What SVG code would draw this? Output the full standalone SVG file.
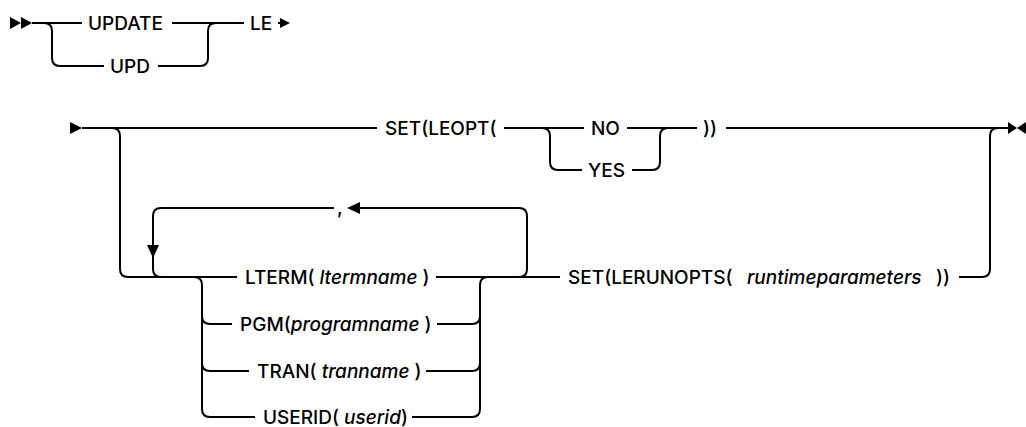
<svg xmlns="http://www.w3.org/2000/svg" width="1026" height="427" viewBox="0 0 1026 427">
<style>
.l{fill:none;stroke:#000;stroke-width:2}
.h{fill:#000;stroke:none}
text{font-family:Inter,"Liberation Sans",Arial,sans-serif;font-size:19px;font-weight:500;fill:#000}
.i{font-style:italic}
</style>
<rect width="1026" height="427" fill="#fff"/>
<g id="connectors">
<path class="l" d="M32,23 L82,23 M44,23 Q52,23 52,31 L52,58 Q52,66 60,66 L104,66"/>
<path class="l" d="M172,23 L244,23 M158,66 L200,66 Q208,66 208,58 L208,31 Q208,23 216,23"/>
<path class="l" d="M278,23 L282,23"/>
<path class="l" d="M82,128 L377,128 M504,128 L584,128 M627,128 L697,128 M726,128 L1010,128"/>
<path class="l" d="M542,128 Q550,128 550,136 L550,162 Q550,170 558,170 L582,170 M632,170 L652,170 Q660,170 660,162 L660,136 Q660,128 668,128"/>
<path class="l" d="M112,128 Q120,128 120,136 L120,269 Q120,277 128,277 L237,277"/>
<path class="l" d="M161,277 Q153,277 153,269 L153,216 Q153,208 161,208 L334,208"/>
<path class="l" d="M360,208 L519,208 Q527,208 527,216 L527,269 Q527,277 519,277"/>
<path class="l" d="M436,277 L560,277 M959,277 L982,277 Q990,277 990,269 L990,136 Q990,128 998,128"/>
<path class="l" d="M194,277 Q202,277 202,285 L202,409 Q202,417 210,417 L255,417 M202,316 Q202,324 210,324 L232,324 M202,363 Q202,371 210,371 L249,371"/>
<path class="l" d="M472,417 Q480,417 480,409 L480,285 Q480,277 488,277 M472,324 Q480,324 480,316 M472,371 Q480,371 480,363 M437,324 L472,324 M426,371 L472,371 M412,417 L472,417"/>
<polygon class="h" points="10,17 21,23 10,29"/>
<polygon class="h" points="21,17 32,23 21,29"/>
<polygon class="h" points="280,18 290,23 280,28"/>
<polygon class="h" points="70,122 82,128 70,134"/>
<polygon class="h" points="1008,122 1017,128 1008,134"/>
<polygon class="h" points="1026,122 1017,128 1026,134"/>
<polygon class="h" points="147,245 159,245 153,258"/>
<polygon class="h" points="360,202 360,214 347,208"/>
</g>
<g id="n-update"><text x="88" y="30">UPDATE</text></g>
<g id="n-upd"><text x="110" y="73">UPD</text></g>
<g id="n-le"><text x="250" y="30">LE</text></g>
<g id="n-setleopt"><text x="385" y="135">SET(LEOPT(</text></g>
<g id="n-no"><text x="591" y="135">NO</text></g>
<g id="n-yes"><text x="588" y="177">YES</text></g>
<g id="n-close1"><text x="703" y="135">))</text></g>
<g id="n-comma"><text x="337" y="214">,</text></g>
<g id="n-lterm"><text x="245" y="284">LTERM( <tspan class="i">ltermname</tspan> )</text></g>
<g id="n-pgm"><text x="240" y="331">PGM(<tspan class="i">programname</tspan> )</text></g>
<g id="n-tran"><text x="257" y="378">TRAN( <tspan class="i">tranname</tspan> )</text></g>
<g id="n-userid"><text x="263" y="424">USERID( <tspan class="i">userid</tspan>)</text></g>
<g id="n-lerunopts"><text x="568" y="284">SET(LERUNOPTS( <tspan class="i" x="747">runtimeparameters</tspan><tspan x="936">))</tspan></text></g>
</svg>
